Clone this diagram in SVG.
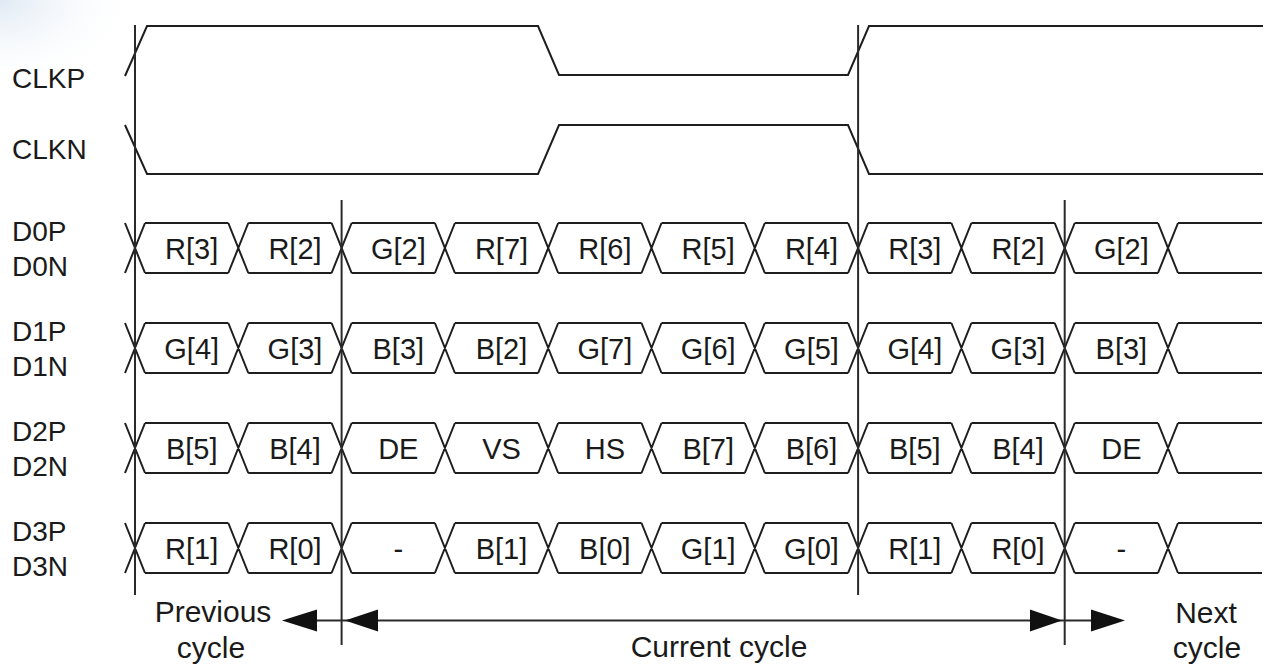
<svg xmlns="http://www.w3.org/2000/svg" width="1266" height="668" viewBox="0 0 1266 668">
<style>
  .w { fill: none; stroke: #1e1e1e; stroke-width: 2; stroke-linejoin: miter; }
  .v { fill: none; stroke: #2a2a2a; stroke-width: 2; }
  .lbl { font-family: "Liberation Sans", Arial, sans-serif; font-size: 28px; fill: #1a1a1a; }
  .cell { font-family: "Liberation Sans", Arial, sans-serif; font-size: 29px; fill: #1a1a1a; text-anchor: middle; }
  .cap { font-family: "Liberation Sans", Arial, sans-serif; font-size: 30px; fill: #1a1a1a; text-anchor: middle; }
  .ah { fill: #111; stroke: none; }
</style>
<defs>
  <radialGradient id="corner" cx="0" cy="0" r="1">
    <stop offset="0" stop-color="#dfe9f4"/>
    <stop offset="1" stop-color="#ffffff" stop-opacity="0"/>
  </radialGradient>
  <path id="lane" class="w" d="M145,0H228.3M248.3,0H331.6M351.6,0H434.9M454.9,0H538.2M558.2,0H641.5M661.5,0H744.8M764.8,0H848.1M868.1,0H951.4M971.4,0H1054.7M1074.7,0H1158M1178,0H1262
  M145,50H228.3M248.3,50H331.6M351.6,50H434.9M454.9,50H538.2M558.2,50H641.5M661.5,50H744.8M764.8,50H848.1M868.1,50H951.4M971.4,50H1054.7M1074.7,50H1158M1178,50H1262
  M125,0L145,50M125,50L145,0
  M228.3,0L248.3,50M228.3,50L248.3,0
  M331.6,0L351.6,50M331.6,50L351.6,0
  M434.9,0L454.9,50M434.9,50L454.9,0
  M538.2,0L558.2,50M538.2,50L558.2,0
  M641.5,0L661.5,50M641.5,50L661.5,0
  M744.8,0L764.8,50M744.8,50L764.8,0
  M848.1,0L868.1,50M848.1,50L868.1,0
  M951.4,0L971.4,50M951.4,50L971.4,0
  M1054.7,0L1074.7,50M1054.7,50L1074.7,0
  M1158,0L1178,50M1158,50L1178,0"/>
</defs>
<rect width="1266" height="668" fill="#ffffff"/>
<rect x="0" y="0" width="140" height="90" fill="url(#corner)"/>

<g id="clkp">
  <text class="lbl" x="12" y="88">CLKP</text>
  <path class="w" d="M125,76L147,26H538L559,75H848L869,26H1263"/>
</g>
<g id="clkn">
  <text class="lbl" x="12" y="159">CLKN</text>
  <path class="w" d="M125,125L147,174H538L559,125H848L869,174H1263"/>
</g>

<g id="d0">
  <text class="lbl" x="12" y="241">D0P</text>
  <text class="lbl" x="12" y="276">D0N</text>
  <use href="#lane" transform="translate(0,223)"/>
  <g class="cell">
    <text x="191.7" y="258.5">R[3]</text>
    <text x="295" y="258.5">R[2]</text>
    <text x="398.3" y="258.5">G[2]</text>
    <text x="501.5" y="258.5">R[7]</text>
    <text x="604.9" y="258.5">R[6]</text>
    <text x="708.2" y="258.5">R[5]</text>
    <text x="811.5" y="258.5">R[4]</text>
    <text x="914.8" y="258.5">R[3]</text>
    <text x="1018" y="258.5">R[2]</text>
    <text x="1121.4" y="258.5">G[2]</text>
  </g>
</g>

<g id="d1">
  <text class="lbl" x="12" y="341">D1P</text>
  <text class="lbl" x="12" y="376">D1N</text>
  <use href="#lane" transform="translate(0,323)"/>
  <g class="cell">
    <text x="191.7" y="358.5">G[4]</text>
    <text x="295" y="358.5">G[3]</text>
    <text x="398.3" y="358.5">B[3]</text>
    <text x="501.5" y="358.5">B[2]</text>
    <text x="604.9" y="358.5">G[7]</text>
    <text x="708.2" y="358.5">G[6]</text>
    <text x="811.5" y="358.5">G[5]</text>
    <text x="914.8" y="358.5">G[4]</text>
    <text x="1018" y="358.5">G[3]</text>
    <text x="1121.4" y="358.5">B[3]</text>
  </g>
</g>

<g id="d2">
  <text class="lbl" x="12" y="441">D2P</text>
  <text class="lbl" x="12" y="476">D2N</text>
  <use href="#lane" transform="translate(0,423)"/>
  <g class="cell">
    <text x="191.7" y="458.5">B[5]</text>
    <text x="295" y="458.5">B[4]</text>
    <text x="398.3" y="458.5">DE</text>
    <text x="501.5" y="458.5">VS</text>
    <text x="604.9" y="458.5">HS</text>
    <text x="708.2" y="458.5">B[7]</text>
    <text x="811.5" y="458.5">B[6]</text>
    <text x="914.8" y="458.5">B[5]</text>
    <text x="1018" y="458.5">B[4]</text>
    <text x="1121.4" y="458.5">DE</text>
  </g>
</g>

<g id="d3">
  <text class="lbl" x="12" y="541">D3P</text>
  <text class="lbl" x="12" y="576">D3N</text>
  <use href="#lane" transform="translate(0,523)"/>
  <g class="cell">
    <text x="191.7" y="558.5">R[1]</text>
    <text x="295" y="558.5">R[0]</text>
    <text x="398.3" y="558.5">-</text>
    <text x="501.5" y="558.5">B[1]</text>
    <text x="604.9" y="558.5">B[0]</text>
    <text x="708.2" y="558.5">G[1]</text>
    <text x="811.5" y="558.5">G[0]</text>
    <text x="914.8" y="558.5">R[1]</text>
    <text x="1018" y="558.5">R[0]</text>
    <text x="1121.4" y="558.5">-</text>
  </g>
</g>

<g id="markers">
  <path class="v" d="M135,25V595M858.1,25V595M341.6,200V645M1064.7,200V645"/>
</g>

<g id="connectors">
  <path class="v" d="M290,620.5H1118"/>
  <polygon class="ah" points="282,620.5 317,609.5 317,631.5"/>
  <polygon class="ah" points="345,620.5 378,609.5 378,631.5"/>
  <polygon class="ah" points="1062,620.5 1030,609.5 1030,631.5"/>
  <polygon class="ah" points="1125,620.5 1091,609.5 1091,631.5"/>
</g>

<g id="captions">
  <text class="cap" x="213" y="622">Previous</text>
  <text class="cap" x="211" y="658">cycle</text>
  <text class="cap" x="719" y="657">Current cycle</text>
  <text class="cap" x="1206" y="623">Next</text>
  <text class="cap" x="1207" y="658">cycle</text>
</g>
</svg>
